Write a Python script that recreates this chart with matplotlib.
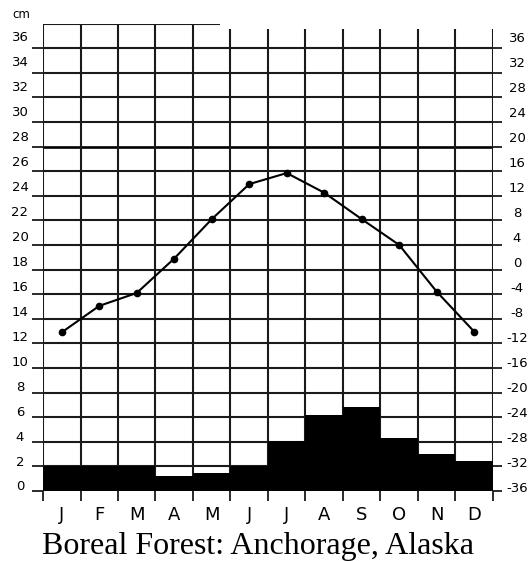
import matplotlib
matplotlib.use("Agg")
import matplotlib.pyplot as plt
import matplotlib.transforms as mtransforms
import numpy as np

months = ["J", "F", "M", "A", "M", "J", "J", "A", "S", "O", "N", "D"]
precip_cm = [2.0, 2.0, 2.0, 1.2, 1.5, 2.0, 4.1, 6.2, 6.8, 4.3, 3.0, 2.4]
temp_c = [-10.2, -5.9, -3.8, 1.8, 8.2, 13.9, 15.7, 12.5, 8.2, 4.0, -3.6, -10.1]
cm_ticks = list(range(0, 37, 2))
temp_ticks = list(range(-36, 37, 4))
title = "Boreal Forest: Anchorage, Alaska"

W, H = 531, 561
fig = plt.figure(figsize=(W / 100, H / 100), dpi=100)
ax = fig.add_axes([43 / W, (H - 491) / H, 450 / W, (491 - 23.6) / H])
ax.set_xlim(0, 12)
ax.set_ylim(0, 38)
for s in ax.spines.values():
    s.set_visible(False)

x = np.arange(len(months)) + 0.5
px_per_cm = (491 - 23.6) / 38

# grid
for v in cm_ticks:
    lw = 1.9 if v == 28 else 1.5
    ax.hlines(v, 0, 12, color="black" if v == 28 else "#1a1a1a", lw=lw, zorder=1)
for i in range(13):
    top = 38 if i <= 4 else 37.6
    ax.vlines(i, 0, top, color="#1a1a1a", lw=1.5, zorder=1)
ax.hlines(38, 0, 4.72, color="#1a1a1a", lw=1.5, zorder=1)

# precipitation bars
ax.bar(x, precip_cm, width=1.0, color="black", linewidth=0, zorder=2)

# ticks
ax.set_yticks(cm_ticks)
ax.set_yticklabels([])
ax.tick_params(axis="y", direction="out", length=8, width=1.3, color="#1a1a1a")
ax.set_xticks(range(13))
ax.set_xticklabels([])
ax.tick_params(axis="x", direction="out", length=7.5, width=1.3, color="#1a1a1a")

# temperature on right axis
ax2 = ax.twinx()
ax2.set_ylim(-36, 40)
for s in ax2.spines.values():
    s.set_visible(False)
ax2.plot(x, temp_c, color="black", lw=1.5, marker="o", markersize=4.5, zorder=3)
ax2.set_yticks(temp_ticks)
ax2.set_yticklabels([])
ax2.tick_params(axis="y", direction="out", length=6.5, width=1.3, color="#1a1a1a")

# labels
trL = mtransforms.blended_transform_factory(fig.transFigure, ax.transData)
for v in cm_ticks:
    off = 4 + 6.5 * v / 36
    ax.text(20 / W, v + off / px_per_cm, str(v), transform=trL, ha="center", va="center",
            fontsize=9.5, clip_on=False)
trR = mtransforms.blended_transform_factory(fig.transFigure, ax2.transData)
for v in temp_ticks:
    off = 3 + 7 * (v + 36) / 72
    ax2.text(517 / W, v + 2 * off / px_per_cm, str(v), transform=trR, ha="center", va="center",
             fontsize=9.5, clip_on=False)

trM = mtransforms.blended_transform_factory(ax.transData, fig.transFigure)
for xi, m in zip(x, months):
    ax.text(xi, (H - 514.5) / H, m, transform=trM, ha="center", va="center",
            fontsize=13, family=["Liberation Sans Narrow", "DejaVu Sans"], clip_on=False)

fig.text(21 / W, (H - 15) / H, "cm", ha="center", va="center", fontsize=8.5)
fig.text(258 / W, (H - 554) / H, title, ha="center", va="baseline",
         fontsize=23, family="Liberation Serif")

fig.savefig("out.png", dpi=100, facecolor="white")
